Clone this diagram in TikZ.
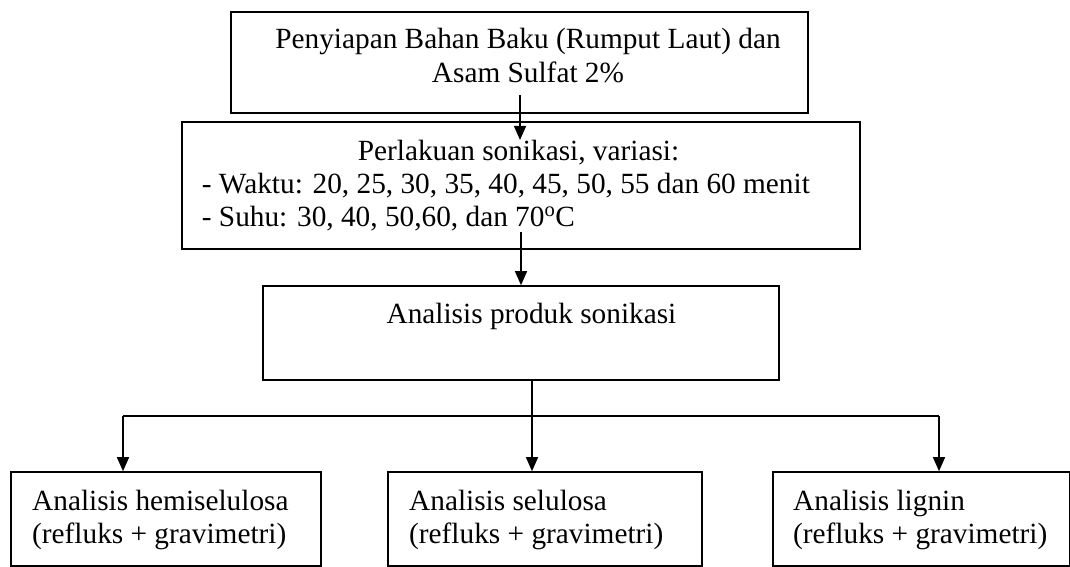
\documentclass[tikz,border=0pt]{standalone}
\usepackage{fontspec}
\setmainfont{Liberation Serif}
\usetikzlibrary{arrows.meta}

\begin{document}
\begin{tikzpicture}[x=1pt, y=-1pt,
  box/.style={draw, line width=1.6pt, inner sep=0pt},
  txt/.style={inner sep=0pt, font=\fontsize{29.3pt}{33.7pt}\selectfont},
  arr/.style={-{Triangle[length=14pt,width=12pt]}, line width=1.4pt}]
\useasboundingbox (0,0) rectangle (1070,567);

\node[box, minimum width=577pt, minimum height=101pt] (prep) at (519.5,62.5) {};
\node[box, minimum width=678pt, minimum height=127pt] (soni) at (521,185.5) {};
\node[box, minimum width=516pt, minimum height=94pt] (anal) at (521,333) {};
\node[box, minimum width=310pt, minimum height=94pt] (hemi) at (166,519) {};
\node[box, minimum width=314pt, minimum height=94pt] (selu) at (545,519) {};
\node[box, minimum width=297pt, minimum height=94pt] (lign) at (921.5,519) {};

\node[txt, anchor=base] (prepA) at (528,49) {Penyiapan Bahan Baku (Rumput Laut) dan};
\node[txt, anchor=base] (prepB) at (528,83) {Asam Sulfat 2\%};
\node[txt, anchor=base] (soniA) at (518.5,160) {Perlakuan sonikasi, variasi:};
\node[txt, anchor=base west] (soniB) at (201.7,193) {- Waktu: 20, 25, 30, 35, 40, 45, 50, 55 dan 60 menit};
\node[txt, anchor=base west] (soniC) at (201.7,226) {- Suhu: 30, 40, 50,60, dan 70\textsuperscript{o}C};
\node[txt, anchor=base] (analA) at (531.5,323) {Analisis produk sonikasi};
\node[txt, anchor=base west] (hemiA) at (32,510) {Analisis hemiselulosa};
\node[txt, anchor=base west] (hemiB) at (32,543) {(refluks + gravimetri)};
\node[txt, anchor=base west] (seluA) at (409,510) {Analisis selulosa};
\node[txt, anchor=base west] (seluB) at (409,543) {(refluks + gravimetri)};
\node[txt, anchor=base west] (lignA) at (793,510) {Analisis lignin};
\node[txt, anchor=base west] (lignB) at (793,543) {(refluks + gravimetri)};

\coordinate (p1) at (520,95);
\coordinate (p2) at (520,140);
\coordinate (s1) at (521,232);
\coordinate (split) at (532,416);
\coordinate (splitL) at (123,416);
\coordinate (splitR) at (939,416);

\draw[arr] (p1) -- (p2);
\draw[arr] (s1) -- (s1 |- anal.north);
\draw[line width=1.4pt] (split |- anal.south) -- (split);
\draw[line width=1.4pt] (splitL) -- (splitR);
\draw[arr] (split) -- (split |- selu.north);
\draw[arr] (splitL) -- (splitL |- hemi.north);
\draw[arr] (splitR) -- (splitR |- lign.north);
\end{tikzpicture}
\end{document}
